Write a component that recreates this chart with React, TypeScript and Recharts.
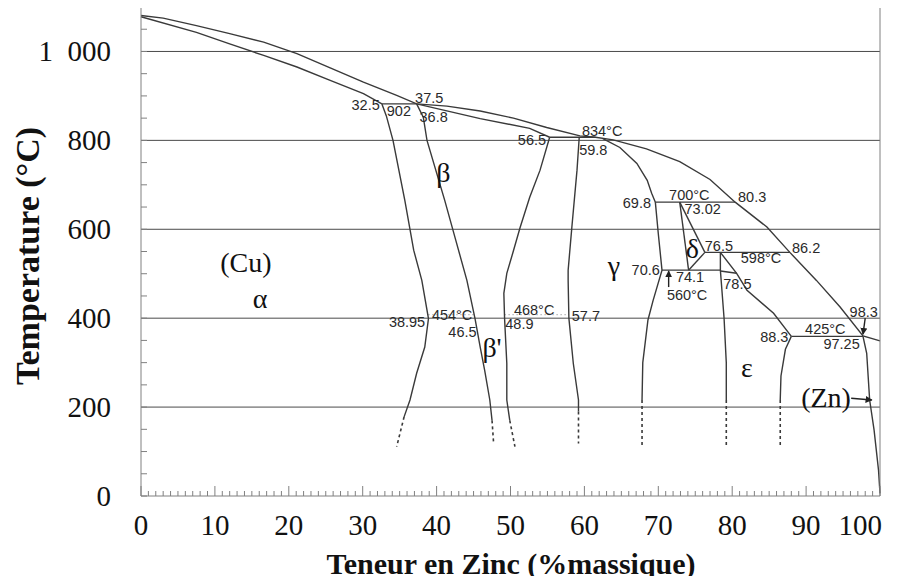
import React from "react";
import { ComposedChart, Line, Scatter, XAxis, YAxis } from "recharts";

// Cu-Zn phase diagram, values as [wt% Zn, temperature °C]
const liquidus = [[0, 1081], [3, 1075], [7.5, 1058], [12, 1040], [16.6, 1021], [21.1, 995], [25.6, 963], [30.1, 931], [34.6, 901], [37.3, 882], [41.4, 877], [45.9, 866], [50.4, 850], [54.9, 829], [59.4, 810], [61.5, 807], [63.9, 801], [68.4, 781], [72.9, 752], [77, 712], [80.4, 661], [84.7, 605], [87.8, 548], [91.4, 485], [94.6, 425], [97.7, 360], [100, 349]];
const solidusAlpha = [[0, 1078], [7.5, 1043], [12, 1017], [16.6, 991], [21.1, 965], [25.6, 935], [30.1, 905], [32.6, 882]];
const peri902 = [[32.6, 882], [37.3, 882]];
const alphaSolvus = [[32.6, 882], [33.2, 855], [34.1, 800], [35.7, 665], [36.9, 553], [38.0, 485], [38.9, 399], [38.4, 335], [37.3, 276], [36.4, 216], [35.6, 178]];
const alphaDash = [[35.6, 178], [34.6, 111]];
const betaSolidus = [[37.3, 882], [45.9, 849], [52.6, 827], [55.3, 807]];
const betaLeft = [[37.3, 882], [38.2, 852], [38.7, 800], [41.1, 665], [42.6, 575], [44.1, 485], [45.2, 399], [45.9, 335], [46.5, 283], [47.2, 216], [47.5, 170]];
const betaLeftDash = [[47.5, 170], [47.7, 122]];
const betaRight = [[55.3, 807], [54.0, 733], [52.6, 672], [51.3, 604], [50.3, 546], [49.5, 501], [49.1, 456], [49.2, 399], [49.5, 298], [49.5, 216], [49.9, 170]];
const betaRightDash = [[49.9, 170], [50.6, 111]];
const peri834 = [[55.3, 807], [61.5, 807]];
const gammaLeft = [[59.3, 807], [59.0, 733], [58.3, 604], [57.8, 508], [57.8, 485], [57.9, 400], [58.5, 298], [59.2, 216], [59.2, 190]];
const gammaLeftDash = [[59.2, 190], [59.2, 118]];
const gammaLiquid = [[62.5, 804], [64.8, 784], [67.1, 748], [68.5, 710], [69.1, 681], [69.6, 661]];
const peri700 = [[69.6, 661], [80.4, 661]];
const gammaRight = [[69.6, 661], [70.0, 590], [70.5, 508], [69.3, 440], [68.6, 396], [67.9, 300], [67.8, 216]];
const gammaRightDash = [[67.8, 216], [67.8, 110]];
const eutectoid560 = [[70.5, 508], [78.4, 508]];
const deltaLeft = [[72.9, 661], [74.1, 508]];
const deltaRight = [[72.9, 661], [76.3, 548]];
const deltaBottom = [[76.3, 548], [74.1, 508]];
const peri598 = [[76.3, 548], [87.8, 548]];
const epsLeft = [[78.4, 548], [78.4, 508], [78.9, 400], [79.2, 300], [79.2, 216]];
const epsLeftDash = [[79.2, 216], [79.2, 110]];
const epsRight = [[78.4, 548], [80.6, 501], [82.0, 463], [85.6, 411], [88.0, 359]];
const epsTip = [[78.4, 506], [80.6, 501]];
const peri425 = [[88.0, 359], [97.7, 359]];
const epsRightLow = [[88.0, 359], [87.2, 330], [86.6, 270], [86.5, 216]];
const epsRightDash = [[86.5, 216], [86.5, 110]];
const znSolvus = [[97.7, 359], [98.2, 321], [98.6, 216], [99.2, 148], [99.8, 58], [100, 6]];
const dotted454 = [[38.9, 408], [45.2, 408]];
const dotted468 = [[49.2, 408], [57.9, 408]];
const arrow741 = [[71.4, 470], [71.4, 506]];
const arrow983 = [[98.0, 400], [97.7, 364]];
const arrowZn = [[96.1, 220], [98.9, 216]];

const solidLines = [liquidus, solidusAlpha, peri902, alphaSolvus, betaSolidus, betaLeft, betaRight, peri834, gammaLeft, gammaLiquid, peri700, gammaRight, eutectoid560, deltaLeft, deltaRight, deltaBottom, peri598, epsLeft, epsRight, epsTip, peri425, epsRightLow, znSolvus];
const dashedLines = [alphaDash, betaLeftDash, betaRightDash, gammaLeftDash, gammaRightDash, epsLeftDash, epsRightDash];
const dottedLines = [dotted454, dotted468];
const arrows = [arrow741, arrow983, arrowZn];

// small numeric annotations [x, t, text]
const valueLabels: [number, number, string][] = [
  [30.4, 879, "32.5"], [34.9, 866, "902"], [39.0, 896, "37.5"], [39.6, 852, "36.8"],
  [52.9, 800, "56.5"], [62.4, 822, "834°C"], [61.2, 778, "59.8"],
  [67.1, 658, "69.8"], [74.2, 676, "700°C"], [82.7, 672, "80.3"], [76.0, 645, "73.02"],
  [78.2, 562, "76.5"], [90.0, 557, "86.2"], [83.9, 535, "598°C"],
  [68.3, 508, "70.6"], [74.3, 492, "74.1"], [73.9, 452, "560°C"], [80.7, 476, "78.5"],
  [97.8, 413, "98.3"], [85.7, 357, "88.3"], [92.6, 376, "425°C"], [94.8, 343, "97.25"],
  [36.0, 391, "38.95"], [42.1, 408, "454°C"], [43.5, 370, "46.5"],
  [53.2, 418, "468°C"], [51.2, 387, "48.9"], [60.2, 404, "57.7"],
];
const phaseLabels: [number, number, string][] = [
  [40.9, 728, "β"], [14.2, 526, "(Cu)"], [16.1, 445, "α"], [64.0, 519, "γ"],
  [74.6, 557, "δ"], [47.5, 333, "β'"], [82.0, 288, "ε"], [92.7, 222, "(Zn)"],
];

const gridTemps = [200, 400, 600, 800, 1000];
const xMinorTicks = Array.from({ length: 101 }, (_, i) => i);
const yLeftTicks = Array.from({ length: 23 }, (_, i) => i * 50);
const yRightTicks = Array.from({ length: 28 }, (_, i) => 25 + i * 39);

const W = 906;
const H = 584;
const SERIF = "'Liberation Serif', 'Times New Roman', serif";
const SANS = "'Liberation Sans', Arial, sans-serif";
const INK = "#3a3a3a";
const FRAME = "#808080";

const toPts = (arr: number[][]) => arr.map(([x, t]) => ({ x, t }));
const toLabels = (arr: [number, number, string][]) => arr.map(([x, t, text]) => ({ x, t, text }));

const BottomTick = (p: any) => {
  const v = p.payload.value;
  const major = v % 10 === 0;
  const last = v === 100;
  return (
    <g>
      <line x1={p.x} x2={p.x} y1={p.y} y2={p.y - (major ? 10 : 5)} stroke={FRAME} />
      {major && (
        <text x={last ? p.x + 2 : p.x} y={p.y + 39} textAnchor={last ? "end" : "middle"} fontFamily={SERIF} fontSize={29} fill="#111">
          {v}
        </text>
      )}
    </g>
  );
};
const TopTick = (p: any) => {
  const major = p.payload.value % 10 === 0;
  return <line x1={p.x} x2={p.x} y1={p.y} y2={p.y + (major ? 10 : 5)} stroke={FRAME} />;
};
const LeftTick = (p: any) => {
  const v = p.payload.value;
  const labelled = v % 200 === 0 && v <= 1000;
  return (
    <g>
      <line x1={p.x} x2={p.x + 6} y1={p.y} y2={p.y} stroke={FRAME} />
      {labelled && (
        <text x={p.x - 30} y={p.y + 10} textAnchor="end" fontFamily={SERIF} fontSize={29} fill="#111">
          {v >= 1000 ? "1\u2002000" : v}
        </text>
      )}
    </g>
  );
};
const RightTick = (p: any) => <line x1={p.x} x2={p.x - 6} y1={p.y} y2={p.y} stroke={FRAME} />;

const ValueText = (p: any) => (
  <text x={p.cx} y={p.cy} textAnchor="middle" dominantBaseline="central" fontFamily={SANS} fontSize={14.5} fill="#2a2a2a">
    {p.payload.text}
  </text>
);
const PhaseText = (p: any) => (
  <text x={p.cx} y={p.cy} textAnchor="middle" dominantBaseline="central" fontFamily={SERIF} fontSize={28} fill="#111">
    {p.payload.text}
  </text>
);

export default function App() {
  return (
    <div style={{ position: "relative", width: W, height: H, margin: -8, background: "#fff" }}>
      <ComposedChart width={W} height={H} margin={{ top: 6, right: 25, bottom: 87, left: 140 }}>
        <XAxis dataKey="x" type="number" domain={[0, 100]} ticks={xMinorTicks} interval={0} height={1} tickLine={false} tickSize={0} tickMargin={0} axisLine={{ stroke: FRAME }} tick={BottomTick} />
        <XAxis xAxisId="top" orientation="top" type="number" domain={[0, 100]} ticks={xMinorTicks} interval={0} height={1} tickLine={false} tickSize={0} tickMargin={0} axisLine={{ stroke: FRAME }} tick={TopTick} />
        <YAxis type="number" domain={[0, 1100]} ticks={yLeftTicks} interval={0} width={1} tickLine={false} tickSize={0} tickMargin={0} axisLine={{ stroke: FRAME }} tick={LeftTick} />
        <YAxis yAxisId="right" orientation="right" type="number" domain={[0, 1100]} ticks={yRightTicks} interval={0} width={1} tickLine={false} tickSize={0} tickMargin={0} axisLine={{ stroke: FRAME }} tick={RightTick} />

        {gridTemps.map((g) => (
          <Line key={`g${g}`} data={[{ x: 0, t: g }, { x: 100, t: g }]} dataKey="t" stroke="#4a4a4a" strokeWidth={1} dot={false} activeDot={false} isAnimationActive={false} />
        ))}
        {dottedLines.map((d, i) => (
          <Line key={`o${i}`} data={toPts(d)} dataKey="t" stroke="#9a9a9a" strokeWidth={1.2} strokeDasharray="1 3" dot={false} activeDot={false} isAnimationActive={false} />
        ))}
        {solidLines.map((d, i) => (
          <Line key={`s${i}`} data={toPts(d)} dataKey="t" stroke={INK} strokeWidth={1.4} dot={false} activeDot={false} isAnimationActive={false} />
        ))}
        {dashedLines.map((d, i) => (
          <Line key={`d${i}`} data={toPts(d)} dataKey="t" stroke={INK} strokeWidth={1.6} strokeDasharray="3 3" dot={false} activeDot={false} isAnimationActive={false} />
        ))}
        <defs>
          <marker id="arrowHead" viewBox="0 0 10 10" refX="9" refY="5" markerWidth="5" markerHeight="5" orient="auto">
            <path d="M0,0 L10,5 L0,10 z" fill="#222" />
          </marker>
        </defs>
        {arrows.map((d, i) => (
          <Line key={`a${i}`} data={toPts(d)} dataKey="t" stroke="#222" strokeWidth={1.4} markerEnd="url(#arrowHead)" dot={false} activeDot={false} isAnimationActive={false} />
        ))}

        <Scatter data={toLabels(valueLabels)} dataKey="t" shape={ValueText} isAnimationActive={false} />
        <Scatter data={toLabels(phaseLabels)} dataKey="t" shape={PhaseText} isAnimationActive={false} />
      </ComposedChart>

      <div
        style={{
          position: "absolute",
          left: 28,
          top: 256,
          transform: "translate(-50%, -50%) rotate(-90deg)",
          whiteSpace: "nowrap",
          fontFamily: SERIF,
          fontWeight: "bold",
          fontSize: 34,
          color: "#111",
        }}
      >
        Temperature (°C)
      </div>
      <div
        style={{
          position: "absolute",
          left: 511,
          top: 564,
          transform: "translate(-50%, -50%)",
          whiteSpace: "nowrap",
          fontFamily: SERIF,
          fontWeight: "bold",
          fontSize: 30,
          color: "#111",
        }}
      >
        Teneur en Zinc (%massique)
      </div>
    </div>
  );
}
